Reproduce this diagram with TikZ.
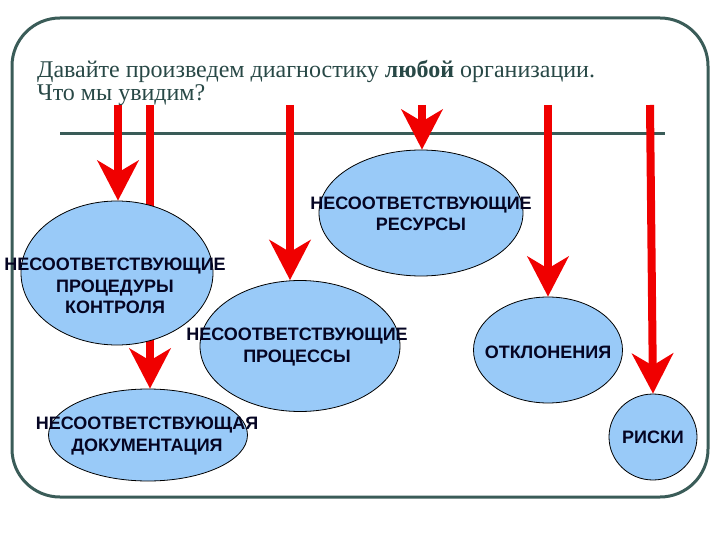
\documentclass[tikz,border=0pt]{standalone}
\usepackage{fontspec}
\setmainfont{Liberation Serif}
\newfontfamily\boxfont{Liberation Sans}
\usetikzlibrary{arrows.meta,shapes.geometric,backgrounds}
\definecolor{frameSlate}{RGB}{58,92,88}
\definecolor{titleSlate}{RGB}{40,72,70}
\definecolor{blobBlue}{RGB}{153,202,248}
\definecolor{arrowRed}{RGB}{240,0,0}
\definecolor{inkNavy}{RGB}{5,5,35}

\begin{document}
\begin{tikzpicture}[x=1pt,y=-1pt,
    blob/.style={ellipse,draw=black,line width=0.8pt,fill=blobBlue,inner sep=0pt},
    txt/.style={font=\boxfont\bfseries\fontsize{18}{21.5}\selectfont,
                text=inkNavy,align=center,inner sep=0pt},
    hit/.style={-{Stealth[length=40pt,width=41pt,inset=12pt]},
                arrowRed,line width=8pt}]

    \useasboundingbox (0,0) rectangle (720,540);

    % frame and title
    \draw[frameSlate,line width=3pt,rounded corners=48pt] (12,18) rectangle (708,497);
    \node[anchor=north west,align=left,text=titleSlate,inner sep=0pt,
          font=\fontsize{24}{23.5}\selectfont] (title) at (37,60)
      {Давайте произведем диагностику \textbf{любой} организации.\\Что мы увидим?};
    \coordinate (barL) at (60,134);
    \coordinate (barR) at (665,134);

    % arrow start points
    \coordinate (s1) at (118,105);
    \coordinate (s2) at (150,105);
    \coordinate (s3) at (290,105);
    \coordinate (s4) at (422,105);
    \coordinate (s5) at (548,105);
    \coordinate (s6) at (650,105);

    % ellipses
    \node[blob,minimum width=192pt,minimum height=144pt] (proc) at (117,273) {};
    \node[blob,minimum width=204pt,minimum height=126pt] (res) at (421,213) {};
    \node[blob,minimum width=200pt,minimum height=131pt] (prc) at (300,346) {};
    \node[blob,minimum width=199pt,minimum height=92pt] (doc) at (148,435) {};
    \node[blob,minimum width=149pt,minimum height=106pt] (dev) at (548,350) {};
    \node[blob,minimum width=88pt,minimum height=86pt] (risk) at (653,437) {};

    % bar and arrows, behind the ellipses
    \begin{scope}[on background layer]
      \draw[frameSlate,line width=3pt] (barL) -- (barR);
      \draw[hit] (s1) -- (s1 |- proc.north);
      \draw[hit] (s2) -- (s2 |- doc.north);
      \draw[hit] (s3) -- (s3 |- prc.north);
      \draw[hit] (s4) -- (s4 |- res.north);
      \draw[hit] (s5) -- (s5 |- dev.north);
      \draw[hit] (s6) -- (risk.north);
    \end{scope}

    % labels
    \node[txt] (res-t) at (421,214) {НЕСООТВЕТСТВУЮЩИЕ\\РЕСУРСЫ};
    \node[txt] (proc-t) at (115,286) {НЕСООТВЕТСТВУЮЩИЕ\\ПРОЦЕДУРЫ\\КОНТРОЛЯ};
    \node[txt] (prc-t) at (297,347) {НЕСООТВЕТСТВУЮЩИЕ\\ПРОЦЕССЫ};
    \node[txt] (doc-t) at (147,436) {НЕСООТВЕТСТВУЮЩАЯ\\ДОКУМЕНТАЦИЯ};
    \node[txt] (dev-t) at (548,352) {ОТКЛОНЕНИЯ};
    \node[txt] (risk-t) at (653,437) {РИСКИ};
\end{tikzpicture}
\end{document}
